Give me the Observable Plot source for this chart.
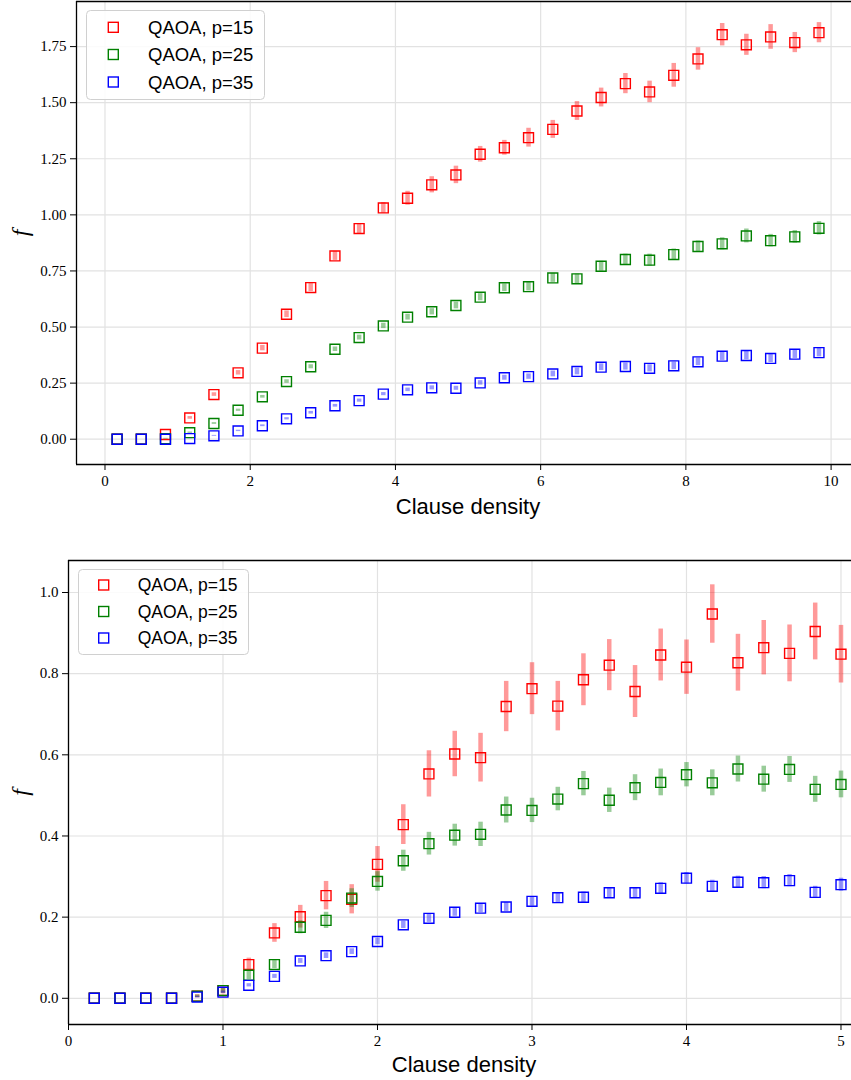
<!DOCTYPE html>
<html><head><meta charset="utf-8">
<script src="https://cdn.jsdelivr.net/npm/d3@7"></script>
<script src="https://cdn.jsdelivr.net/npm/@observablehq/plot@0.6"></script>
<style>
html,body{margin:0;padding:0;background:#fff;overflow:hidden;}
#wrap{position:relative;width:851px;height:1080px;}
.panel{position:absolute;left:0;width:851px;}
.overlay{position:absolute;left:0;top:0;pointer-events:none;}
</style></head>
<body><div id="wrap"></div>
<script>
// ---------- data ----------
const seriesNames = ["QAOA, p=15", "QAOA, p=25", "QAOA, p=35"];
const seriesColors = ["#ff0000", "#008000", "#0000ff"];

// Top panel
const topX = [0.167,0.5,0.833,1.167,1.5,1.833,2.167,2.5,2.833,3.167,3.5,3.833,4.167,4.5,4.833,5.167,5.5,5.833,6.167,6.5,6.833,7.167,7.5,7.833,8.167,8.5,8.833,9.167,9.5,9.833];
const topP15 = [0,0,0.021,0.095,0.199,0.296,0.406,0.557,0.676,0.817,0.939,1.031,1.074,1.134,1.178,1.270,1.299,1.344,1.381,1.463,1.523,1.585,1.548,1.622,1.695,1.803,1.758,1.793,1.768,1.812];
const topP15Err = [0,0,0.004,0.006,0.008,0.010,0.012,0.015,0.018,0.020,0.022,0.024,0.031,0.036,0.039,0.035,0.033,0.042,0.040,0.042,0.042,0.045,0.048,0.053,0.050,0.050,0.047,0.055,0.045,0.045];
const topP25 = [0,0,0.002,0.029,0.070,0.129,0.189,0.257,0.323,0.401,0.453,0.505,0.544,0.568,0.596,0.633,0.675,0.680,0.719,0.715,0.771,0.801,0.798,0.823,0.859,0.871,0.906,0.885,0.902,0.940];
const topP25Err = [0,0,0.002,0.003,0.004,0.005,0.006,0.008,0.009,0.010,0.011,0.012,0.013,0.014,0.015,0.016,0.017,0.019,0.020,0.021,0.022,0.024,0.027,0.025,0.025,0.027,0.031,0.028,0.028,0.030];
const topP35 = [0,0,0,0.003,0.015,0.037,0.060,0.091,0.118,0.149,0.172,0.201,0.220,0.229,0.227,0.251,0.274,0.279,0.291,0.302,0.321,0.324,0.316,0.327,0.345,0.370,0.373,0.360,0.379,0.386];
const topP35Err = [0,0,0,0.001,0.002,0.003,0.004,0.005,0.006,0.006,0.007,0.007,0.008,0.009,0.009,0.010,0.011,0.012,0.013,0.015,0.015,0.016,0.016,0.017,0.017,0.019,0.019,0.018,0.019,0.019];
const topXTicks = [0,2,4,6,8,10];
const topYTicks = [0,0.25,0.5,0.75,1.0,1.25,1.5,1.75];

// Bottom panel
const botX = [0.167,0.333,0.5,0.667,0.833,1.0,1.167,1.333,1.5,1.667,1.833,2.0,2.167,2.333,2.5,2.667,2.833,3.0,3.167,3.333,3.5,3.667,3.833,4.0,4.167,4.333,4.5,4.667,4.833,5.0];
const botP15 = [0,0,0,0,0.005,0.019,0.083,0.161,0.201,0.253,0.244,0.330,0.428,0.553,0.602,0.593,0.719,0.763,0.720,0.785,0.821,0.756,0.846,0.816,0.947,0.827,0.864,0.850,0.904,0.848];
const botP15Err = [0,0,0,0,0.004,0.008,0.016,0.023,0.028,0.035,0.036,0.044,0.049,0.057,0.056,0.060,0.062,0.064,0.061,0.064,0.063,0.064,0.064,0.067,0.072,0.070,0.067,0.070,0.070,0.071];
const botP25 = [0,0,0,0,0.005,0.019,0.057,0.083,0.175,0.192,0.247,0.288,0.339,0.381,0.402,0.404,0.464,0.463,0.491,0.529,0.488,0.519,0.532,0.551,0.531,0.565,0.540,0.564,0.515,0.527];
const botP25Err = [0,0,0,0,0.003,0.006,0.011,0.010,0.016,0.020,0.023,0.024,0.026,0.028,0.027,0.030,0.032,0.030,0.029,0.030,0.030,0.032,0.033,0.030,0.032,0.032,0.032,0.032,0.032,0.033];
const botP35 = [0,0,0,0,0.003,0.015,0.032,0.054,0.092,0.105,0.115,0.140,0.181,0.197,0.212,0.222,0.225,0.239,0.248,0.249,0.260,0.260,0.271,0.296,0.276,0.286,0.285,0.290,0.261,0.280];
const botP35Err = [0,0,0,0,0.002,0.003,0.004,0.005,0.006,0.007,0.007,0.008,0.009,0.010,0.010,0.011,0.011,0.012,0.012,0.013,0.013,0.013,0.014,0.014,0.015,0.015,0.015,0.015,0.015,0.016];
const botXTicks = [0,1,2,3,4,5];
const botYTicks = [0,0.2,0.4,0.6,0.8,1.0];

const xTitle = "Clause density";
const yTitle = "f";

// ---------- drawing ----------
const serif = "'Liberation Serif', 'DejaVu Serif', serif";
const sans = "'Liberation Sans', Arial, sans-serif";
const wrap = document.getElementById("wrap");

function panel(cfg) {
  const {xs, vals, errs, xDomain, yDomain, xTicks, yTicks, yFmt, marginLeft, marginTop, marginBottom, height, top, xLabelDy} = cfg;
  const marks = [
    Plot.gridX({ticks: xTicks, stroke: "#e2e2e2", strokeOpacity: 1, strokeWidth: 1.2}),
    Plot.gridY({ticks: yTicks, stroke: "#e2e2e2", strokeOpacity: 1, strokeWidth: 1.2})
  ];
  vals.forEach((v, si) => {
    const rows = xs.map((x, i) => ({x, y: v[i], e: errs[si][i]}));
    marks.push(Plot.ruleX(rows, {x: "x", y1: d => d.y - d.e, y2: d => d.y + d.e, stroke: seriesColors[si], strokeOpacity: 0.4, strokeWidth: 4.5}));
    marks.push(Plot.dot(rows, {x: "x", y: "y", symbol: "square", r: 5.6, stroke: seriesColors[si], strokeWidth: 1.4, fill: "none"}));
  });
  marks.push(
    Plot.ruleX([xDomain[0]], {stroke: "#000", strokeWidth: 1.3}),
    Plot.ruleY([yDomain[0]], {stroke: "#000", strokeWidth: 1.3}),
    Plot.ruleY([yDomain[1]], {stroke: "#000", strokeWidth: 1.3}),
    Plot.axisX({ticks: xTicks, tickFormat: d => String(d), tickSize: 6, tickPadding: 5, label: null, fontFamily: serif, fontSize: 15, stroke: "#000"}),
    Plot.axisY({ticks: yTicks, tickFormat: yFmt, tickSize: 6, tickPadding: 4, label: null, fontFamily: serif, fontSize: 15, stroke: "#000"}),
    Plot.text([xTitle], {text: d => d, frameAnchor: "bottom", lineAnchor: "top", dx: 4, dy: xLabelDy, fontFamily: sans, fontSize: 22, fill: "#000"}),
    Plot.text([yTitle], {text: d => d, frameAnchor: "left", dx: 20 - marginLeft, rotate: -90, textAnchor: "middle", lineAnchor: "middle", fontFamily: serif, fontStyle: "italic", fontSize: 24, fill: "#000"})
  );
  const svg = Plot.plot({
    width: 851, height, marginLeft, marginRight: 0, marginTop, marginBottom,
    style: {background: "transparent", color: "#000", overflow: "visible"},
    x: {domain: xDomain, label: null},
    y: {domain: yDomain, label: null},
    marks
  });
  const div = document.createElement("div");
  div.className = "panel";
  div.style.top = top + "px";
  div.appendChild(svg);
  wrap.appendChild(div);
}

panel({xs: topX, vals: [topP15, topP25, topP35], errs: [topP15Err, topP25Err, topP35Err],
  xDomain: [-0.3925, 10.281], yDomain: [-0.1127, 1.951], xTicks: topXTicks, yTicks: topYTicks,
  yFmt: d3.format(".2f"), marginLeft: 76, marginTop: 1, marginBottom: 76, height: 540, top: 0, xLabelDy: 34});
panel({xs: botX, vals: [botP15, botP25, botP35], errs: [botP15Err, botP25Err, botP35Err],
  xDomain: [0, 5.068], yDomain: [-0.0646, 1.0789], xTicks: botXTicks, yTicks: botYTicks,
  yFmt: d3.format(".1f"), marginLeft: 68, marginTop: 20, marginBottom: 56, height: 540, top: 540, xLabelDy: 32});

// ---------- legends ----------
function legend(box, mx, rowsY, tx, fontSize) {
  const svg = d3.select(wrap).append("svg").attr("class", "overlay").attr("width", 851).attr("height", 1080);
  svg.append("rect").attr("x", box[0]).attr("y", box[1]).attr("width", box[2]).attr("height", box[3])
    .attr("rx", 4).attr("fill", "rgba(255,255,255,0.85)").attr("stroke", "#d0d0d0").attr("stroke-width", 1);
  seriesNames.forEach((name, i) => {
    svg.append("rect").attr("x", mx - 5).attr("y", rowsY[i] - 5).attr("width", 10).attr("height", 10)
      .attr("fill", "none").attr("stroke", seriesColors[i]).attr("stroke-width", 1.4);
    svg.append("text").attr("x", tx).attr("y", rowsY[i] + fontSize * 0.36).attr("font-family", sans)
      .attr("font-size", fontSize).attr("fill", "#000").text(name);
  });
}
legend([86.5, 10.5, 178, 89], 113.3, [27.3, 54.5, 82], 148, 18.5);
legend([78.5, 569.5, 170, 85], 103.7, [585, 611.5, 638], 137.7, 17.5);
</script>
</body></html>
